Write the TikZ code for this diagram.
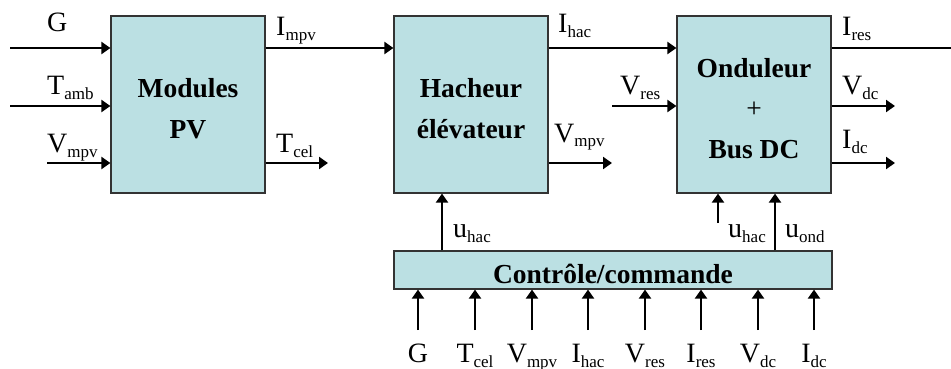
\documentclass[tikz,border=0pt]{standalone}
\usepackage{fontspec}
\setmainfont{Liberation Serif}
\usetikzlibrary{positioning,arrows.meta,calc}
\definecolor{boxfill}{RGB}{187,224,227}
\newcommand\idx[1]{\raisebox{-5pt}{\fontsize{17}{20}\selectfont #1}}
\newcommand\hstrut{\rule{0pt}{27pt}}

\tikzset{
  blok/.style={draw=black!80, line width=1.2pt, fill=boxfill, align=center,
    inner sep=0pt, font=\fontsize{27.5}{40.5}\selectfont\bfseries},
  sig/.style={-{Triangle[length=9pt,width=12pt]}, line width=2.2pt},
  lbl/.style={anchor=base west, inner sep=0pt},
}

\begin{document}
\begin{tikzpicture}[x=1pt, y=-1pt, font=\fontsize{28}{32}\selectfont]
\useasboundingbox (0,0) rectangle (951,369);
% blocks
\node[blok, minimum width=154pt, minimum height=177pt] (pv) at (188,104.5) {\hstrut Modules\\PV};
\node[blok, minimum width=154pt, minimum height=177pt] (hac) at (471,104.5) {\hstrut Hacheur\\élévateur};
\node[blok, minimum width=154pt, minimum height=177pt] (ond) at (754,104.5) {\hstrut Onduleur\\{\mdseries+}\\Bus DC};
\node[blok, minimum width=438pt, minimum height=38pt] (cc) at (613,270) {\hstrut Contrôle/commande};
% rows
\coordinate (r1) at (0,48);
\coordinate (gin) at (10,48);
\coordinate (tin) at (10,106);
\coordinate (vin) at (47,163);
\coordinate (tout) at (328,163);
\coordinate (vout) at (612,163);
\coordinate (vres) at (612,106);
\coordinate (ires) at (951,48);
\coordinate (vdc) at (895,106);
\coordinate (idc) at (895,163);
% inputs of the PV modules
\draw[sig] (gin) -- (pv.west |- gin);
\draw[sig] (tin) -- (pv.west |- tin);
\draw[sig] (vin) -- (pv.west |- vin);
\node[lbl] (lg) at (47,32) {G};
\node[lbl] (lt) at (47,95) {T\idx{amb}};
\node[lbl] (lv) at (47,152) {V\idx{mpv}};
% power path
\draw[sig] (pv.east |- r1) -- (hac.west |- r1);
\draw[sig] (pv.east |- tout) -- (tout);
\draw[sig] (hac.east |- r1) -- (ond.west |- r1);
\draw[sig] (hac.east |- vout) -- (vout);
\draw[sig] (vres) -- (ond.west |- vres);
\draw[line width=2.2pt] (ond.east |- ires) -- (ires);
\draw[sig] (ond.east |- vdc) -- (vdc);
\draw[sig] (ond.east |- idc) -- (idc);
\node[lbl] (limpv) at (276,36) {I\idx{mpv}};
\node[lbl] (ltcel) at (276,152) {T\idx{cel}};
\node[lbl] (lihac) at (558,33) {I\idx{hac}};
\node[lbl] (lvmpv) at (554,142) {V\idx{mpv}};
\node[lbl] (lvres) at (620,95) {V\idx{res}};
\node[lbl] (lires) at (842,36) {I\idx{res}};
\node[lbl] (lvdc) at (842,95) {V\idx{dc}};
\node[lbl] (lidc) at (842,148) {I\idx{dc}};
% control outputs
\coordinate (c1) at (442,0);
\coordinate (c2) at (718,223);
\coordinate (c3) at (775,0);
\draw[sig] (cc.north -| c1) -- (hac.south -| c1);
\draw[sig] (c2) -- (ond.south -| c2);
\draw[sig] (cc.north -| c3) -- (ond.south -| c3);
\node[lbl] (lu1) at (453,237) {u\idx{hac}};
\node[lbl] (lu2) at (728,237) {u\idx{hac}};
\node[lbl] (lu3) at (785,237) {u\idx{ond}};
% measurements
\foreach \x/\s in {418/G, 475/T\idx{cel}, 532/V\idx{mpv}, 588/I\idx{hac},
  645/V\idx{res}, 701/I\idx{res}, 758/V\idx{dc}, 814/I\idx{dc}} {
  \coordinate (m\x) at (\x,330);
  \draw[sig] (m\x) -- (cc.south -| m\x);
  \node[anchor=base, inner sep=0pt] (lm\x) at (\x,362) {\s};
}
\end{tikzpicture}
\end{document}
